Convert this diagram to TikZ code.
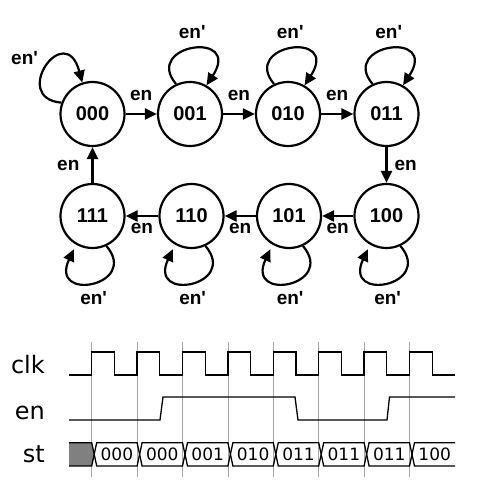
\documentclass[tikz,border=0pt]{standalone}
\usepackage{fontspec}
\usetikzlibrary{arrows.meta,positioning}
\newfontfamily\wavefont{DejaVu Sans}
\font\statefont="Liberation Sans/B" at 20pt
\font\labelfont="Liberation Sans/B" at 19pt

\begin{document}
\begin{tikzpicture}[x=1pt,y=1pt,
    >={Triangle[length=12pt,width=11pt]},
    state/.style={circle,draw,line width=2.2pt,minimum size=64pt,inner sep=0pt,font=\statefont},
    edge/.style={->,line width=2.2pt},
    elabel/.style={inner sep=1pt,font=\labelfont},
    wave/.style={line width=1.3pt},
    gridline/.style={draw=gray!70,line width=0.7pt},
    signame/.style={anchor=base east,inner sep=0pt,font=\wavefont\fontsize{24}{28}\selectfont},
    busval/.style={inner sep=0pt,font=\wavefont\fontsize{17}{20}\selectfont}
  ]
    \useasboundingbox (0,0) rectangle (486,496);

    %% Counter state diagram
    % States
    \node[state] (s000) at (92.5,382) {000};
    \node[state] (s001) at (190,382) {001};
    \node[state] (s010) at (288,382) {010};
    \node[state] (s011) at (386.5,382) {011};
    \node[state] (s100) at (386.5,280) {100};
    \node[state] (s101) at (289,280) {101};
    \node[state] (s110) at (191.5,280) {110};
    \node[state] (s111) at (92.5,280) {111};

    % Counting transitions
    \draw[edge] (s000) -- (s001) node[elabel,midway,above=11pt] {en};
    \draw[edge] (s001) -- (s010) node[elabel,midway,above=11pt] {en};
    \draw[edge] (s010) -- (s011) node[elabel,midway,above=11pt] {en};
    \draw[edge] (s011) -- (s100) node[elabel,midway,right=6pt] {en};
    \draw[edge] (s100) -- (s101) node[elabel,midway,below=5pt] {en};
    \draw[edge] (s101) -- (s110) node[elabel,midway,below=5pt] {en};
    \draw[edge] (s110) -- (s111) node[elabel,midway,below=5pt] {en};
    \draw[edge] (s111) -- (s000) node[elabel,midway,left=11pt] {en};

    % Hold loops
    \draw[edge] (s000.160) .. controls +(175:52) and +(105:66) .. (s000.108) node[elabel,midway,above left=0pt and 6pt] {en'};
    \draw[edge] (s001.115) .. controls +(130:52) and +(57:66) .. (s001.60) node[elabel,midway,above=8pt] {en'};
    \draw[edge] (s010.115) .. controls +(130:52) and +(57:66) .. (s010.60) node[elabel,midway,above=8pt] {en'};
    \draw[edge] (s011.115) .. controls +(130:52) and +(57:66) .. (s011.60) node[elabel,midway,above=8pt] {en'};
    \draw[edge,shorten >=5pt] (s100.-65) .. controls +(-50:52) and +(-115:64) .. (s100.-120) node[elabel,midway,below=7pt] {en'};
    \draw[edge,shorten >=5pt] (s101.-65) .. controls +(-50:52) and +(-115:64) .. (s101.-120) node[elabel,midway,below=7pt] {en'};
    \draw[edge,shorten >=5pt] (s110.-65) .. controls +(-50:52) and +(-115:64) .. (s110.-120) node[elabel,midway,below=7pt] {en'};
    \draw[edge,shorten >=5pt] (s111.-65) .. controls +(-50:52) and +(-115:64) .. (s111.-120) node[elabel,midway,below=7pt] {en'};

    %% Timing diagram
    % Clock edges
    \foreach \k in {0,...,7}
        \draw[gridline] ({91.7+45.4*\k},19) -- ++(0,135);

    % Signal names
    \node[signame] (lclk) at (45,122) {clk};
    \node[signame] (len) at (45,76) {en};
    \node[signame] (lst) at (45,33) {st};

    % clk
    \draw[wave] (69,121) \foreach \k in {0,...,7} { -- ({91.7+45.4*\k},121) -- ++(0,23) -- ++(22.7,0) -- ++(0,-23) } -- (455,121);

    % en
    \draw[wave] (69,76) -- (160,76) -- (163,99) -- (295,99) -- (298,76) -- (387,76) -- (389.5,99) -- (455,99);

    % st: unknown, then the counter values
    \fill[gray] (69,53.3) -- (91.7,53.3) -- (94.2,41.7) -- (91.7,30) -- (69,30) -- cycle;
    \draw[wave] (69,53.3) -- (91.7,53.3) -- (94.2,41.7) -- (91.7,30) -- (69,30);
    \foreach \v [count=\k from 0] in {000,000,001,010,011,011,011} {
        \pgfmathsetmacro\xa{91.7+45.4*\k}
        \pgfmathsetmacro\xb{\xa+45.4}
        \draw[wave] (\xa+2.5,41.7) -- (\xa+5,53.3) -- (\xb,53.3) -- (\xb+2.5,41.7) -- (\xb,30) -- (\xa+5,30) -- cycle;
        \node[busval] (v\k) at ({(\xa+\xb)/2+2.5},41.7) {\v};
    }
    \draw[wave] (455,53.3) -- (414.5,53.3) -- (412,41.7) -- (414.5,30) -- (455,30);
    \node[busval] (v7) at (434.7,41.7) {100};

\end{tikzpicture}
\end{document}
